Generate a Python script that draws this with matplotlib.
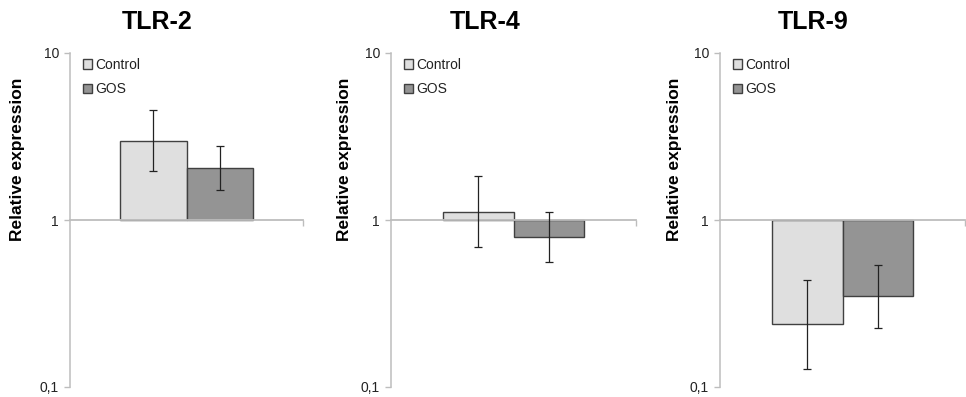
import matplotlib
matplotlib.use("Agg")
import matplotlib.pyplot as plt
import numpy as np

plt.rcParams['font.family'] = ['Liberation Sans', 'DejaVu Sans']

# Data: relative expression (fold change) with error bar limits
genes = ["TLR-2", "TLR-4", "TLR-9"]
groups = ["Control", "GOS"]
control_mean = [2.97, 1.12, 0.238]
control_low = [1.96, 0.69, 0.128]
control_high = [4.56, 1.83, 0.437]
gos_mean = [2.05, 0.79, 0.351]
gos_low = [1.51, 0.56, 0.225]
gos_high = [2.77, 1.12, 0.537]
ytick_values = [0.1, 1, 10]
ytick_labels = ["0,1", "1", "10"]

colors = {"Control": "#dfdfdf", "GOS": "#949494"}
edge = "#404040"
axis_grey = "#bdbdbd"

W, H = 966, 397
fig = plt.figure(figsize=(W / 100, H / 100), dpi=100)

# panel geometry in pixels: (axis left, axis right, title centre x, ylabel right edge)
panels = [(70, 303, 157, 25), (391, 636, 485, 352), (720, 965, 813, 682)]
ax_top, ax_bottom = 53, 387

bar_w = 0.2875
means = [control_mean, gos_mean]
lows = [control_low, gos_low]
highs = [control_high, gos_high]

for i, gene in enumerate(genes):
    left, right, tx, ylab_x = panels[i]
    ax = fig.add_axes([left / W, (H - ax_bottom) / H,
                       (right - left) / W, (ax_bottom - ax_top) / H])
    ax.set_yscale("log")
    ax.set_ylim(0.1, 10)
    ax.set_xlim(-0.5, 0.5)

    for j, grp in enumerate(groups):
        x = (j - 0.5) * bar_w
        v = means[j][i]
        ax.bar(x, v - 1, bottom=1, width=bar_w, color=colors[grp],
               edgecolor=edge, linewidth=1.0, label=grp, zorder=2)
        ax.errorbar(x, v, yerr=[[v - lows[j][i]], [highs[j][i] - v]],
                    fmt="none", ecolor="#222222", elinewidth=0.9,
                    capsize=2.6, capthick=0.9, zorder=4)

    # axes styling: y axis on the left, category axis crossing at 1
    for s in ["top", "right"]:
        ax.spines[s].set_visible(False)
    ax.spines["left"].set_color(axis_grey)
    ax.spines["left"].set_linewidth(1.1)
    ax.spines["bottom"].set_position(("data", 1))
    ax.spines["bottom"].set_color(axis_grey)
    ax.spines["bottom"].set_linewidth(1.3)
    ax.spines["bottom"].set_zorder(3)

    ax.set_yticks(ytick_values)
    ax.set_yticklabels(ytick_labels)
    ax.yaxis.set_minor_locator(matplotlib.ticker.NullLocator())
    ax.tick_params(axis="y", direction="out", length=4, width=1.0,
                   color=axis_grey, labelsize=10, labelcolor="#222222", pad=4)
    ax.set_xticks([0.5])
    ax.set_xticklabels([])
    ax.tick_params(axis="x", direction="out", length=4, width=1.0,
                   color=axis_grey)
    ax.patch.set_alpha(0)

    ax.set_ylabel("Relative expression", fontsize=12.5, fontweight="bold",
                  color="black")
    ax.yaxis.set_label_coords((ylab_x - left) / (right - left),
                              (ax_bottom - 159) / (ax_bottom - ax_top))

    leg = ax.legend(loc="upper left",
                    bbox_to_anchor=(13 / (right - left), 1 - 5 / (ax_bottom - ax_top)),
                    frameon=False, fontsize=10, handlelength=0.65,
                    handleheight=0.65, handletextpad=0.2, labelspacing=0.75,
                    borderpad=0, borderaxespad=0)
    for t in leg.get_texts():
        t.set_color("#222222")

    fig.text(tx / W, 1 - 22 / H, gene, ha="center", va="center",
             fontsize=18, fontweight="bold")

fig.savefig("out.png", dpi=100)
